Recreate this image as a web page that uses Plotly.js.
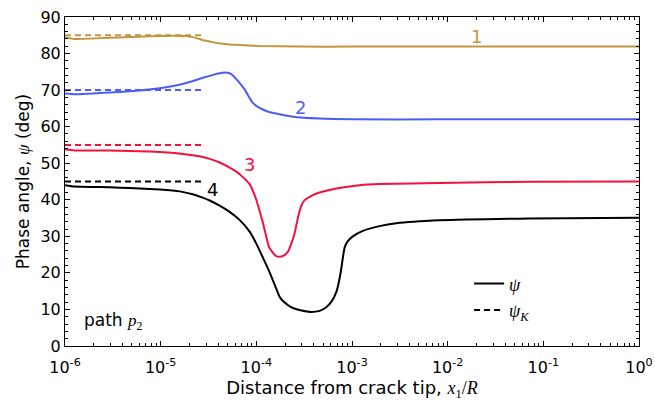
<!DOCTYPE html>
<html>
<head>
<meta charset="utf-8">
<script src="https://cdn.plot.ly/plotly-3.0.1.min.js"></script>
<style>html,body{margin:0;padding:0;background:#fff;}#chart{width:655px;height:401px;}</style>
</head>
<body>
<div id="chart"></div>
<script>
// ---- data ----
// curve 1
const x1 = [1.0e-6, 1.26e-6, 2.31e-6, 3.73e-6, 6.04e-6, 9.77e-6, 1.40e-5, 1.78e-5, 2.16e-5, 2.75e-5, 3.25e-5, 3.84e-5, 5.26e-5, 6.18e-5, 1.08e-4, 2.79e-4, 1.02e-3, 8.22e-3, 7.17e-2, 1];
const y1 = [84.5, 84.0, 84.2, 84.4, 84.6, 84.8, 84.9, 84.8, 84.5, 83.7, 83.3, 82.9, 82.5, 82.4, 82.1, 81.9, 81.9, 81.9, 81.9, 81.9];

// curve 2
const x2 = [1.0e-6, 1.26e-6, 2.31e-6, 3.73e-6, 6.04e-6, 9.77e-6, 1.40e-5, 2.01e-5, 2.56e-5, 3.25e-5, 3.66e-5, 4.13e-5, 4.67e-5, 5.26e-5, 5.70e-5, 6.18e-5, 6.68e-5, 7.55e-5, 8.51e-5, 9.15e-5, 1.00e-4, 1.17e-4, 1.36e-4, 1.75e-4, 2.41e-4, 4.58e-4, 1.02e-3, 8.22e-3, 1];
const y2 = [69.1, 68.9, 69.2, 69.5, 69.9, 70.5, 71.2, 72.2, 73.1, 73.9, 74.3, 74.6, 74.8, 74.6, 74.0, 73.0, 72.0, 70.2, 67.8, 66.6, 65.7, 64.7, 64.0, 63.4, 62.7, 62.2, 62.0, 62.0, 62.0];

// curve 3
const x3 = [1.0e-6, 1.26e-6, 2.31e-6, 3.73e-6, 6.04e-6, 9.77e-6, 1.40e-5, 2.16e-5, 2.56e-5, 3.25e-5, 4.13e-5, 5.26e-5, 6.18e-5, 7.24e-5, 8.51e-5, 9.15e-5, 1.00e-4, 1.08e-4, 1.17e-4, 1.27e-4, 1.36e-4, 1.59e-4, 1.75e-4, 1.93e-4, 2.14e-4, 2.32e-4, 2.51e-4, 2.64e-4, 2.79e-4, 2.97e-4, 3.20e-4, 3.90e-4, 4.58e-4, 6.86e-4, 1.20e-3, 1.94e-3, 8.22e-3, 7.17e-2, 1];
const y3 = [53.8, 53.5, 53.5, 53.4, 53.3, 53.1, 52.8, 52.2, 51.9, 51.2, 50.2, 48.8, 47.7, 46.2, 44.3, 42.6, 40.0, 37.0, 33.8, 29.9, 27.0, 24.7, 24.4, 24.7, 25.8, 28.0, 30.8, 33.5, 36.3, 38.5, 39.9, 41.3, 42.0, 43.1, 44.0, 44.3, 44.6, 44.9, 45.0];

// curve 4
const x4 = [1.0e-6, 1.26e-6, 2.31e-6, 3.73e-6, 6.04e-6, 9.77e-6, 1.58e-5, 2.16e-5, 2.75e-5, 3.25e-5, 4.13e-5, 5.26e-5, 6.68e-5, 8.51e-5, 1.00e-4, 1.17e-4, 1.36e-4, 1.62e-4, 1.75e-4, 1.90e-4, 2.14e-4, 2.41e-4, 2.97e-4, 3.76e-4, 4.58e-4, 5.38e-4, 6.12e-4, 6.86e-4, 7.33e-4, 7.73e-4, 8.07e-4, 8.37e-4, 9.00e-4, 1.02e-3, 1.30e-3, 1.94e-3, 2.90e-3, 8.22e-3, 7.17e-2, 1];
const y4 = [44.0, 43.6, 43.5, 43.3, 43.1, 42.8, 42.3, 41.5, 40.6, 39.8, 38.4, 36.7, 34.5, 31.3, 28.0, 24.2, 20.5, 15.6, 13.5, 12.3, 11.2, 10.4, 9.7, 9.3, 9.6, 10.6, 12.2, 14.8, 17.8, 21.2, 24.6, 26.9, 28.6, 30.0, 31.5, 32.8, 33.6, 34.4, 34.9, 35.1];

// psi_K (dashed) reference levels
const xK = [1e-6, 2.8e-5];
const psiK = [85, 70, 55, 45];

const curveLabels = ['1', '2', '3', '4'];
const colors = ['#c3963d', '#4d5cf5', '#f5103d', '#000000'];

const xTickVals = [1e-6, 1e-5, 1e-4, 1e-3, 1e-2, 1e-1, 1];
const xTickText = ['10<sup>-6</sup>', '10<sup>-5</sup>', '10<sup>-4</sup>', '10<sup>-3</sup>', '10<sup>-2</sup>', '10<sup>-1</sup>', '10<sup>0</sup>'];

// ---- build ----
const xs = [x1, x2, x3, x4];
const ys = [y1, y2, y3, y4];
const traces = [];
for (let i = 0; i < 4; i++) {
  traces.push({x: xK, y: [psiK[i], psiK[i]], mode: 'lines', showlegend: false,
    line: {color: colors[i], width: 2, dash: '6px,4px'}, hoverinfo: 'skip'});
}
for (let i = 0; i < 4; i++) {
  traces.push({x: xs[i], y: ys[i], mode: 'lines', showlegend: false,
    line: {color: colors[i], width: 2, shape: 'spline', smoothing: 0.5}});
}
const serif = "'Liberation Serif', 'DejaVu Serif', serif";
traces.push({x: [null], y: [null], mode: 'lines', name: '<i>ψ</i>', line: {color: '#000', width: 2}});
traces.push({x: [null], y: [null], mode: 'lines', name: '<i>ψ</i><sub><i>K</i></sub>', line: {color: '#000', width: 2, dash: '6px,4px'}});

const minorX = [];
for (let e = -6; e < 0; e++) for (let d = 2; d <= 9; d++) minorX.push(d * Math.pow(10, e));

const labelPos = [[-1.70, 84.8], [-3.54, 65.2], [-4.07, 49.7], [-4.46, 42.7]];
const annotations = curveLabels.map((t, i) => ({
  x: labelPos[i][0], y: labelPos[i][1], xref: 'x', yref: 'y', text: t, showarrow: false,
  font: {size: 18, color: colors[i], family: 'DejaVu Sans'}
}));
annotations.push({x: 0.029, y: 0.073, xref: 'paper', yref: 'paper', xanchor: 'left', yanchor: 'middle',
  text: 'path <span style="font-family:' + serif + '"><i>p</i><sub>2</sub></span>', showarrow: false,
  font: {size: 17, color: '#000', family: 'DejaVu Sans'}});

const layout = {
  width: 655, height: 401,
  margin: {l: 65, r: 16, t: 17, b: 55},
  paper_bgcolor: '#fff', plot_bgcolor: '#fff',
  font: {family: 'DejaVu Sans', size: 16, color: '#000'},
  xaxis: {
    type: 'log', range: [-6, 0],
    tickmode: 'array', tickvals: xTickVals, ticktext: xTickText,
    ticks: 'inside', ticklen: 5, tickwidth: 1, tickcolor: '#000',
    ticklabelstandoff: 7,
    minor: {tickmode: 'array', tickvals: minorX, ticks: 'inside', ticklen: 3, tickwidth: 1, tickcolor: '#000', showgrid: false},
    showline: true, linecolor: '#000', linewidth: 1, mirror: 'allticks',
    showgrid: false, zeroline: false,
    tickfont: {size: 16},
    title: {text: 'Distance from crack tip, <span style="font-family:' + serif + '"><i>x</i><sub>1</sub>/<i>R</i></span>', font: {size: 18}, standoff: 2}
  },
  yaxis: {
    range: [0, 90], dtick: 10, tick0: 0,
    ticks: 'inside', ticklen: 5, tickwidth: 1, tickcolor: '#000',
    minor: {dtick: 2, ticks: 'inside', ticklen: 3, tickwidth: 1, tickcolor: '#000', showgrid: false},
    showline: true, linecolor: '#000', linewidth: 1, mirror: 'allticks',
    showgrid: false, zeroline: false,
    tickfont: {size: 16},
    title: {text: 'Phase angle, <span style="font-family:' + serif + '"><i>ψ</i></span> (deg)', font: {size: 17}, standoff: 6}
  },
  showlegend: true,
  legend: {x: 0.704, y: 0.245, xanchor: 'left', yanchor: 'top', bgcolor: 'rgba(0,0,0,0)',
    font: {family: serif, size: 18}, tracegroupgap: 0},
  annotations: annotations
};

Plotly.newPlot('chart', traces, layout, {displayModeBar: false, staticPlot: true});
</script>
</body>
</html>
